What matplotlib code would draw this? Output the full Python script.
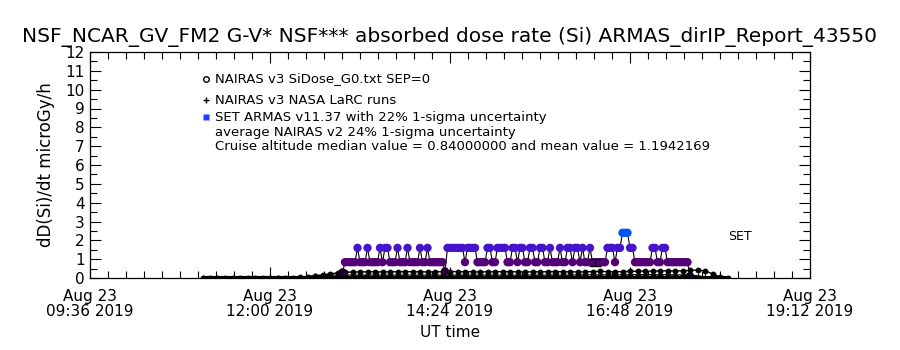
import numpy as np
import matplotlib
matplotlib.use("Agg")
import matplotlib.pyplot as plt
from matplotlib.colors import LinearSegmentedColormap, Normalize
from matplotlib.ticker import MultipleLocator, FixedLocator

# ---------------- data ----------------
TITLE = "NSF_NCAR_GV_FM2 G-V* NSF*** absorbed dose rate (Si) ARMAS_dirIP_Report_43550"
legend_lines = [
    "NAIRAS v3 SiDose_G0.txt SEP=0",
    "NAIRAS v3 NASA LaRC runs",
    "SET ARMAS v11.37 with 22% 1-sigma uncertainty",
    "average NAIRAS v2 24% 1-sigma uncertainty",
    "Cruise altitude median value = 0.84000000 and mean value = 1.1942169",
]

# x axis in decimal hours UT, Aug 23 2019
x_range = (9.6, 19.2)
xtick_hours = [9.6, 12.0, 14.4, 16.8, 19.2]
xtick_labels = ["Aug 23\n09:36 2019", "Aug 23\n12:00 2019", "Aug 23\n14:24 2019",
                "Aug 23\n16:48 2019", "Aug 23\n19:12 2019"]
y_range = (0, 12)
ytick_values = list(range(0, 13))

# NAIRAS v3 SiDose_G0 (6-min cadence starting 11:06 UT)
sidose_start = 11.1
sidose_step = 0.1
sidose_values = [
    0.0, 0.0, 0.0, 0.0, 0.0, 0.0, 0.0, 0.0, 0.0, 0.0, 0.0, 0.0, 0.0,
    0.03, 0.07, 0.12, 0.17, 0.22, 0.27, 0.30,
    0.32, 0.32, 0.33, 0.33, 0.32, 0.33, 0.33, 0.34, 0.33, 0.33, 0.32,
    0.33, 0.33, 0.34, 0.34, 0.33, 0.33, 0.32, 0.33, 0.33, 0.34, 0.33,
    0.33, 0.32, 0.33, 0.33, 0.33, 0.34, 0.33, 0.33, 0.32, 0.33, 0.34,
    0.35, 0.34, 0.33, 0.34, 0.35, 0.36, 0.37, 0.36, 0.37, 0.38, 0.37,
    0.38, 0.40, 0.42, 0.38, 0.22, 0.06, 0.0,
]
# SEP contribution (zero over the whole flight)
sep_values = [0.0] * len(sidose_values)

# NAIRAS v3 NASA LaRC runs (6-min cadence starting 12:36 UT) plus two ground points
larc_ground_hours = [11.1, 12.1]
larc_ground_values = [0.0, 0.0]
larc_start = 12.6
larc_step = 0.1
larc_values = [
    0.10, 0.13, 0.15, 0.16, 0.16, 0.16, 0.16, 0.16, 0.16, 0.16,
    0.16, 0.16, 0.16, 0.16, 0.16, 0.16, 0.16, 0.16, 0.16, 0.16,
    0.16, 0.16, 0.16, 0.16, 0.16, 0.16, 0.16, 0.16, 0.16, 0.16,
    0.16, 0.16, 0.16, 0.16, 0.16, 0.17, 0.17, 0.17, 0.17, 0.17,
    0.17, 0.17, 0.18, 0.18, 0.18, 0.18, 0.18, 0.18, 0.17, 0.17,
    0.16, 0.12, 0.06, 0.02,
]

# SET ARMAS dose rate, 2-min cadence starting 12:58 UT (run-length encoded: level, count)
armas_start = 12.0 + 58 / 60
armas_step = 2 / 60
armas_levels = [0.30, 0.84, 1.6, 0.84, 1.6, 0.84, 1.6, 0.84, 1.6, 0.84, 1.6, 0.84,
                1.6, 0.84, 1.6, 0.84, 1.6, 0.84, 0.35, 1.6, 0.84, 1.6, 0.84, 1.6,
                0.84, 1.6, 0.84, 1.6, 0.84, 1.6, 0.84, 1.6, 0.84, 1.6, 0.84, 1.6,
                0.84, 1.6, 0.84, 1.6, 0.84, 1.6, 0.84, 1.6, 0.84, 1.6, 0.84, 1.6,
                0.84, 1.6, 2.4, 1.6, 0.84, 1.6, 0.84, 1.6, 0.84, 0.10]
armas_counts = [1, 5, 1, 3, 1, 4, 1, 1, 2, 3, 1, 3,
                1, 4, 1, 2, 1, 6, 1, 7, 1, 4, 4, 2,
                2, 4, 2, 2, 1, 2, 2, 2, 2, 2, 2, 1,
                3, 1, 2, 2, 1, 2, 1, 1, 2, 1, 6, 3,
                1, 2, 3, 2, 7, 2, 2, 2, 9, 1]
armas_err_hour = 16.333
armas_err_value = 0.84
armas_err_sigma = 0.22

# ---------------- figure ----------------
plt.rcParams['font.family'] = ['DejaVu Sans']
fig = plt.figure(figsize=(9, 3.5), dpi=100)
ax = fig.add_axes([90 / 900, 1 - 278 / 350, 720 / 900, 226 / 350])

sid_t = sidose_start + sidose_step * np.arange(len(sidose_values))
ax.plot(sid_t, sep_values, color='black', lw=3.0, solid_capstyle='butt', zorder=2)
ax.plot(sid_t, sidose_values, color='black', lw=1.0, marker='o', ms=3.2,
        mfc='black', mec='black', zorder=3)

larc_t = larc_start + larc_step * np.arange(len(larc_values))
ax.plot(np.concatenate([larc_ground_hours, larc_t]),
        np.concatenate([larc_ground_values, larc_values]),
        color='black', lw=0.8, marker='+', ms=5, mew=0.8, zorder=3)

armas_v = np.repeat(armas_levels, armas_counts)
armas_t = armas_start + armas_step * np.arange(len(armas_v))
cmap = LinearSegmentedColormap.from_list(
    'armas', [(0.0, (0, 0, 0)), (0.28, (0.33, 0.0, 0.47)),
              (0.533, (0.27, 0.08, 0.80)), (0.8, (0.0, 0.33, 0.95)),
              (1.0, (0.0, 0.5, 1.0))])
norm = Normalize(0, 3)
ax.plot(armas_t, armas_v, color='black', lw=0.8, zorder=4)
ax.scatter(armas_t, armas_v, c=armas_v, cmap=cmap, norm=norm, s=36,
           marker='o', linewidths=0, zorder=5)
ax.errorbar([armas_err_hour], [armas_err_value],
            yerr=[armas_err_value * armas_err_sigma], fmt='none',
            ecolor='black', elinewidth=1.0, capsize=4, capthick=1.0, zorder=6)

ax.set_xlim(*x_range)
ax.set_ylim(*y_range)
ax.xaxis.set_major_locator(FixedLocator(xtick_hours))
ax.set_xticklabels(xtick_labels, fontsize=11, linespacing=1.0)
ax.xaxis.set_minor_locator(MultipleLocator(0.24))
ax.yaxis.set_major_locator(FixedLocator(ytick_values))
ax.set_yticklabels([str(v) for v in ytick_values], fontsize=11)
ax.yaxis.set_minor_locator(MultipleLocator(0.5))
ax.tick_params(which='both', direction='in', top=True, right=True, width=0.8)
ax.tick_params(which='major', length=8, pad=4)
ax.tick_params(which='minor', length=5)
ax.tick_params(axis='x', which='major', pad=8)
for s in ax.spines.values():
    s.set_linewidth(0.9)

ax.set_xlabel("UT time", fontsize=11, labelpad=4)
ax.set_ylabel("dD(Si)/dt microGy/h", fontsize=12, labelpad=7)
fig.text(0.5, 1 - 37 / 350, TITLE, ha='center', va='center', fontsize=14.5)

# legend block
leg_x = 215 / 900
leg_y = [79, 100, 117, 132, 147]
leg_fs = [9.5, 9.5, 9.5, 9.5, 9.5]
sym_x = 206 / 900
fig.add_artist(plt.Line2D([sym_x], [1 - leg_y[0] / 350], marker='o', ms=4,
                          mfc='white', mec='black', mew=1.0, transform=fig.transFigure))
fig.add_artist(plt.Line2D([sym_x], [1 - leg_y[1] / 350], marker='+', ms=5,
                          mec='black', mew=1.0, transform=fig.transFigure))
fig.add_artist(plt.Line2D([sym_x], [1 - leg_y[2] / 350], marker='s', ms=4,
                          mfc=(0.1, 0.25, 1.0), mec='none', transform=fig.transFigure))
for txt, yy, fs in zip(legend_lines, leg_y, leg_fs):
    fig.text(leg_x, 1 - yy / 350, txt, ha='left', va='center', fontsize=fs)

ax.text(18.27, 2.2, "SET", fontsize=9, ha='center', va='center')

fig.savefig("out.png", dpi=100)
